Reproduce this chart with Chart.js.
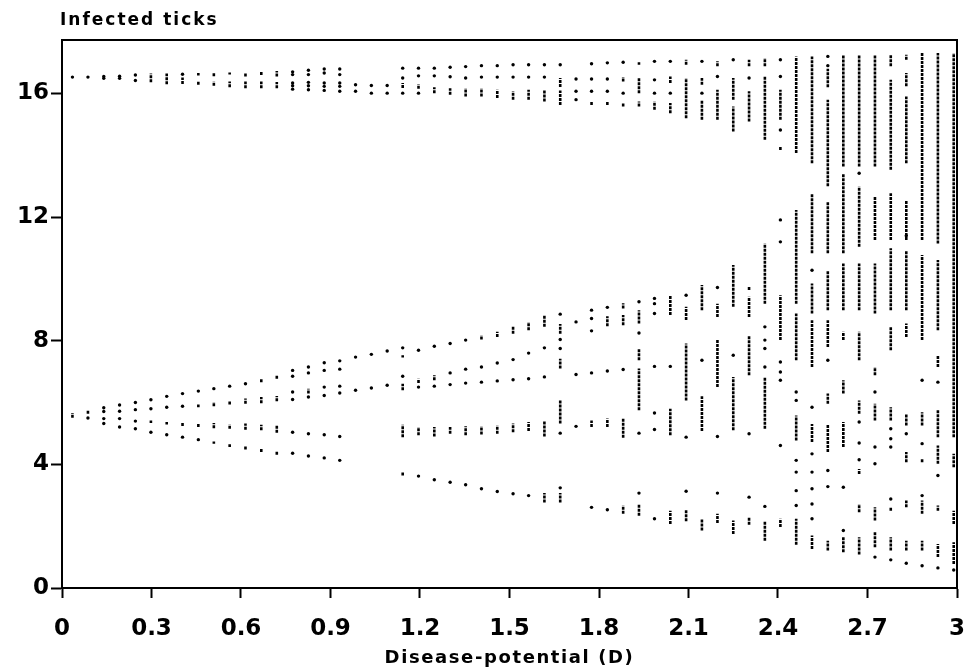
<!DOCTYPE html>
<html>
<head>
<meta charset="utf-8">
<script src="https://cdn.jsdelivr.net/npm/chart.js@4.4.1/dist/chart.umd.min.js"></script>
<style>
  html, body { margin: 0; padding: 0; background: #fff; }
  #wrap { position: relative; width: 967px; height: 670px; }
</style>
</head>
<body>
<div id="wrap"><canvas id="chart" width="967" height="670"></canvas></div>
<script>
// Disease-potential values of the 57 sampled columns
const columnD = [
  0.035, 0.087, 0.140, 0.193, 0.246, 0.298, 0.351, 0.404, 0.457, 0.509,
  0.562, 0.615, 0.668, 0.720, 0.773, 0.826, 0.879, 0.931, 0.984, 1.037,
  1.090, 1.142, 1.195, 1.248, 1.301, 1.353, 1.406, 1.459, 1.512, 1.564,
  1.617, 1.670, 1.723, 1.775, 1.828, 1.881, 1.934, 1.986, 2.039, 2.092,
  2.145, 2.197, 2.250, 2.303, 2.356, 2.408, 2.461, 2.514, 2.567, 2.619,
  2.672, 2.725, 2.778, 2.830, 2.883, 2.936, 2.989
];

// single attractor points (infected ticks) per column
const dotValues = [
  [16.53],
  [16.53, 5.50],
  [16.55, 16.49, 5.83, 5.71, 5.48, 5.32],
  [16.56, 16.49, 5.92, 5.72, 5.48, 5.21],
  [16.60, 16.42, 6.00, 5.77, 5.40, 5.15],
  [6.09, 5.80, 5.04],
  [6.20, 5.85, 4.96],
  [16.62, 6.29, 5.88, 4.88],
  [6.37, 4.80],
  [6.45],
  [6.53],
  [6.61],
  [],
  [],
  [16.70, 16.61, 16.34, 16.25, 16.14, 7.04, 6.85, 6.34, 6.10, 5.04, 4.36],
  [16.75, 16.61, 16.36, 16.25, 16.12, 7.15, 6.96, 6.18, 4.99, 4.27],
  [16.79, 16.66, 16.34, 16.23, 16.10, 7.29, 7.04, 6.50, 6.23, 4.96, 4.21],
  [16.79, 16.61, 16.34, 16.23, 16.07, 7.35, 7.08, 6.53, 6.31, 4.90, 4.13],
  [16.28, 16.07, 7.47, 6.40],
  [16.26, 16.01, 7.56, 6.47],
  [16.26, 16.01, 7.67, 6.56],
  [16.82, 16.50, 16.01, 7.77, 6.85],
  [16.82, 16.57, 16.01, 7.69, 6.50, 3.62],
  [16.82, 16.57, 7.82, 6.53, 3.50],
  [16.85, 16.54, 7.91, 6.96, 6.58, 3.42],
  [16.87, 16.50, 8.02, 7.08, 6.63, 3.34],
  [16.90, 16.53, 7.15, 6.66, 3.21],
  [16.90, 16.53, 7.28, 6.70, 3.12],
  [16.93, 16.53, 7.39, 6.74, 3.05],
  [16.93, 16.53, 7.60, 6.77, 2.99],
  [16.93, 16.53, 7.77, 6.83],
  [16.93, 8.86, 8.04, 7.75, 5.01, 3.24],
  [16.47, 16.07, 15.80, 8.61, 6.91, 5.23],
  [16.96, 16.47, 16.07, 8.99, 8.72, 8.32, 6.96, 2.61],
  [16.99, 16.47, 16.07, 9.08, 7.02, 2.53],
  [17.01, 16.01, 7.07],
  [9.26, 8.25, 5.01, 3.07],
  [17.04, 16.44, 16.01, 9.37, 9.20, 8.88, 7.17, 5.66, 5.13, 2.24],
  [17.04, 16.01, 7.17],
  [9.47, 4.88, 3.13],
  [17.04, 16.01, 7.37],
  [16.55, 9.72, 4.90, 3.07],
  [17.09, 7.53],
  [16.50, 4.99, 2.94],
  [8.45, 8.02, 7.75, 7.15, 2.64],
  [17.09, 16.55, 14.82, 11.91, 11.20, 7.31, 6.99, 6.72, 4.61],
  [6.34, 6.07, 4.13, 3.75, 3.15, 2.67],
  [10.28, 5.85, 4.34, 3.75, 3.21, 2.72, 2.24],
  [17.20, 16.90, 7.37, 3.80, 3.28],
  [3.26, 1.86],
  [13.42, 5.37, 4.69, 4.15],
  [6.34, 4.56, 4.02, 1.00],
  [5.15, 4.83, 4.56, 2.88, 0.91],
  [11.40, 4.99, 0.80],
  [6.72, 4.67, 2.99, 0.72],
  [6.66, 3.64, 0.65],
  [0.58]
];

// dense runs of points per column, [low, high]
const streakRanges = [
  [[5.51, 5.66]],
  [[5.64, 5.77]],
  [],
  [],
  [],
  [[16.36, 16.65], [5.34, 5.42]],
  [[16.30, 16.65], [5.29, 5.37]],
  [[16.31, 16.52], [5.24, 5.35]],
  [[16.58, 16.66], [16.28, 16.39], [5.85, 5.94], [5.21, 5.32]],
  [[16.56, 16.66], [16.25, 16.39], [5.88, 6.02], [5.17, 5.34], [4.67, 4.74]],
  [[16.61, 16.68], [16.20, 16.39], [5.94, 6.07], [5.15, 5.29], [4.56, 4.65]],
  [[16.55, 16.68], [16.17, 16.39], [5.96, 6.13], [5.12, 5.32], [4.48, 4.59]],
  [[16.60, 16.71], [16.17, 16.39], [6.66, 6.79], [5.98, 6.18], [5.10, 5.28], [4.40, 4.51]],
  [[16.55, 16.73], [16.17, 16.37], [6.77, 6.88], [6.04, 6.21], [5.02, 5.26], [4.31, 4.43]],
  [],
  [[6.29, 6.45]],
  [],
  [],
  [],
  [],
  [],
  [[16.18, 16.34], [7.46, 7.53], [6.40, 6.61], [4.88, 5.28], [3.64, 3.75]],
  [[16.15, 16.30], [6.63, 6.77], [4.94, 5.21]],
  [[16.01, 16.20], [6.72, 6.88], [4.90, 5.21]],
  [[15.96, 16.17], [4.99, 5.21]],
  [[15.90, 16.17], [4.94, 5.23]],
  [[15.90, 16.17], [8.04, 8.18], [4.97, 5.23]],
  [[15.85, 16.12], [8.12, 8.29], [4.99, 5.26]],
  [[15.80, 16.07], [8.23, 8.45], [5.04, 5.32]],
  [[15.80, 16.12], [8.34, 8.61], [5.08, 5.37]],
  [[15.74, 16.12], [8.45, 8.83], [4.90, 5.42], [2.77, 3.07]],
  [[16.21, 16.50], [15.63, 16.10], [8.23, 8.54], [7.10, 7.42], [5.32, 6.07], [2.77, 3.07]],
  [],
  [[15.63, 15.74], [5.21, 5.42]],
  [[15.63, 15.74], [8.47, 8.79], [5.21, 5.48]],
  [[16.39, 16.53], [15.58, 15.69], [9.04, 9.21], [8.50, 8.83], [4.86, 5.51], [2.40, 2.67]],
  [[16.93, 17.01], [16.01, 16.50], [15.58, 15.74], [8.56, 8.99], [7.37, 7.75], [5.75, 7.10], [2.34, 2.70]],
  [[15.47, 15.74]],
  [[16.34, 16.55], [15.36, 15.69], [8.83, 9.47], [4.94, 5.80], [2.07, 2.50]],
  [[16.93, 17.09], [15.20, 16.50], [8.67, 9.10], [6.07, 7.91], [2.16, 2.53]],
  [[16.28, 16.50], [15.15, 15.80], [8.99, 9.80], [5.08, 6.20], [1.86, 2.24]],
  [[16.88, 17.04], [15.15, 16.12], [8.77, 9.20], [6.50, 8.02], [2.10, 2.40]],
  [[15.80, 16.50], [14.77, 15.58], [9.10, 10.45], [5.10, 6.83], [1.75, 2.18]],
  [[16.88, 17.09], [15.09, 16.07], [9.64, 9.77], [8.77, 9.42], [6.88, 8.18], [2.05, 2.27]],
  [[16.88, 17.15], [14.50, 16.55], [9.20, 11.15], [5.15, 6.83], [1.53, 2.16]],
  [[15.15, 16.12], [14.17, 14.28], [8.02, 9.47], [1.97, 2.24]],
  [[14.07, 17.20], [9.20, 12.23], [7.37, 8.88], [4.77, 5.58], [1.40, 2.24]],
  [[13.74, 17.20], [10.83, 12.77], [8.88, 9.85], [7.15, 8.66], [4.72, 5.31], [1.26, 1.70]],
  [[16.20, 16.80], [13.00, 15.80], [10.83, 12.50], [8.99, 10.28], [7.80, 8.66], [5.96, 6.29], [4.40, 5.31], [1.21, 1.53]],
  [[13.64, 17.23], [10.83, 13.40], [8.99, 10.50], [8.02, 8.29], [6.29, 6.72], [4.56, 5.37], [1.16, 1.64]],
  [[13.64, 17.25], [11.04, 12.99], [8.99, 10.50], [7.37, 8.29], [5.64, 6.07], [3.69, 3.85], [2.45, 2.72], [1.08, 1.64]],
  [[13.64, 17.25], [11.26, 12.66], [8.88, 10.50], [6.88, 7.15], [5.42, 5.96], [2.18, 2.61], [1.32, 1.80]],
  [[16.88, 17.25], [13.53, 16.44], [11.26, 12.77], [8.99, 10.99], [7.69, 8.45], [5.42, 5.85], [2.50, 2.61], [1.21, 1.64]],
  [[17.09, 17.25], [16.23, 16.66], [13.74, 15.90], [11.26, 12.55], [8.99, 10.93], [8.12, 8.56], [5.26, 5.64], [4.07, 4.40], [2.61, 2.83], [1.21, 1.53]],
  [[11.26, 17.31], [8.02, 10.77], [5.26, 5.69], [4.07, 4.18], [2.40, 2.83], [1.21, 1.53]],
  [[11.15, 17.31], [8.34, 10.61], [7.15, 7.53], [4.88, 5.75], [4.02, 4.61], [2.50, 2.67], [1.00, 1.42]],
  [[4.88, 17.31], [3.91, 4.34], [2.07, 2.50], [0.78, 1.48]]
];

const xTickValues = [0, 0.3, 0.6, 0.9, 1.2, 1.5, 1.8, 2.1, 2.4, 2.7, 3];
const xTickLabels = ['0', '0.3', '0.6', '0.9', '1.2', '1.5', '1.8', '2.1', '2.4', '2.7', '3'];
const yTickValues = [0, 4, 8, 12, 16];
const yTickLabels = ['0', '4', '8', '12', '16'];
const yAxisTop = 17.73;

const chartTitle = 'Infected ticks';
const xTitle = 'Disease-potential (D)';

const dotPoints = [];
const streakPoints = [];
columnD.forEach((d, i) => {
  dotValues[i].forEach(y => dotPoints.push({ x: d, y }));
  streakRanges[i].forEach(([lo, hi]) => {
    streakPoints.push({ x: d, y: lo }, { x: d, y: hi }, { x: d, y: null });
  });
});

const tickFont = { family: "'DejaVu Sans', sans-serif", size: 23, weight: 'bold' };

const framePlugin = {
  id: 'frame',
  afterDraw(chart) {
    const { ctx, chartArea: a } = chart;
    ctx.save();
    ctx.strokeStyle = '#000';
    ctx.lineWidth = 2;
    ctx.strokeRect(a.left, a.top, a.right - a.left, a.bottom - a.top);
    ctx.fillStyle = '#000';
    ctx.textBaseline = 'alphabetic';
    ctx.font = "bold 17px 'DejaVu Sans', sans-serif";
    ctx.letterSpacing = '2px';
    ctx.textAlign = 'left';
    ctx.fillText(chartTitle, 60, 25);
    ctx.font = "bold 18px 'DejaVu Sans', sans-serif";
    ctx.letterSpacing = '1.6px';
    ctx.textAlign = 'center';
    ctx.fillText(xTitle, (a.left + a.right) / 2, 663);
    ctx.restore();
  }
};

new Chart(document.getElementById('chart'), {
  type: 'scatter',
  data: {
    datasets: [
      {
        data: dotPoints,
        pointRadius: 1.7,
        pointBackgroundColor: '#000',
        pointBorderWidth: 0,
        showLine: false,
      },
      {
        data: streakPoints,
        showLine: true,
        spanGaps: false,
        pointRadius: 0,
        borderColor: '#000',
        borderWidth: 2.6,
        borderCapStyle: 'butt',
        borderDash: [3, 1],
      },
    ],
  },
  options: {
    responsive: false,
    animation: false,
    devicePixelRatio: 1,
    layout: { padding: { top: 40, right: 10, left: 0, bottom: 0 } },
    plugins: { legend: { display: false }, tooltip: { enabled: false } },
    scales: {
      x: {
        type: 'linear', min: 0, max: 3, offset: false,
        afterFit: s => { s.height = 82; s.paddingLeft = 0; s.paddingRight = 0; },
        afterBuildTicks: s => { s.ticks = xTickValues.map(v => ({ value: v })); },
        grid: { drawOnChartArea: false, drawTicks: true, tickLength: 10, tickWidth: 2, tickColor: '#000' },
        border: { display: true, color: '#000', width: 2 },
        ticks: {
          color: '#000', font: tickFont, padding: 17, maxRotation: 0, autoSkip: false,
          callback: (v, i) => xTickLabels[i],
        },
      },
      y: {
        type: 'linear', min: 0, max: yAxisTop,
        afterFit: s => { s.width = 62; s.paddingTop = 0; s.paddingBottom = 0; },
        afterBuildTicks: s => { s.ticks = yTickValues.map(v => ({ value: v })); },
        grid: { drawOnChartArea: false, drawTicks: true, tickLength: 11, tickWidth: 2, tickColor: '#000' },
        border: { display: true, color: '#000', width: 2 },
        ticks: {
          color: '#000', font: tickFont, padding: 2, autoSkip: false,
          callback: (v, i) => yTickLabels[i],
        },
      },
    },
  },
  plugins: [framePlugin],
});
</script>
</body>
</html>
